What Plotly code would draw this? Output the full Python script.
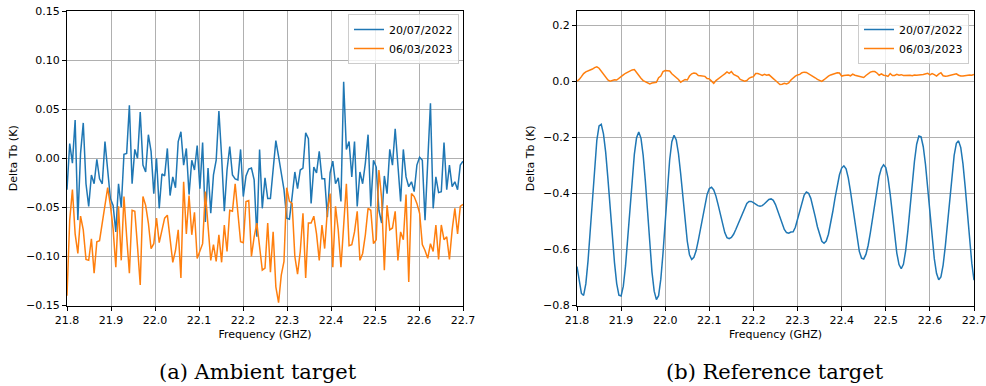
import numpy as np
import plotly.graph_objects as go

# ---------------- data ----------------
series_names = ["20/07/2022", "06/03/2023"]
captions = ["(a) Ambient target", "(b) Reference target"]

ambient_2022 = [
    -0.032, 0.015, -0.005, 0.039, -0.063, 0.005, 0.036, -0.026, -0.049, -0.017,
    -0.026, -0.001, -0.021, -0.026, 0.017, -0.012, -0.041, -0.048, -0.075, -0.026,
    -0.050, 0.004, 0.005, 0.054, -0.026, 0.009, 0.000, 0.047, -0.007, -0.014,
    0.024, 0.007, -0.036, 0.000, -0.051, -0.016, -0.018, 0.010, -0.038, -0.019,
    -0.030, 0.017, 0.027, -0.007, 0.010, -0.037, -0.002, -0.012, 0.013, -0.031,
    0.016, -0.065, -0.010, -0.056, -0.017, -0.002, 0.048, 0.002, -0.054, -0.012,
    0.012, -0.017, -0.021, -0.022, 0.009, -0.039, -0.018, -0.011, -0.010, -0.022,
    -0.080, 0.009, -0.051, -0.020, -0.041, -0.041, -0.012, 0.018, 0.002, -0.015,
    -0.032, -0.061, -0.062, -0.039, -0.014, -0.031, -0.012, -0.010, 0.026, 0.020,
    -0.046, -0.009, -0.015, 0.007, -0.021, -0.021, -0.060, -0.015,
    -0.003, -0.026, -0.020, -0.044, 0.078, 0.009, 0.017, -0.019, 0.017, -0.049,
    -0.014, -0.026, -0.005, 0.024, -0.049, -0.002, -0.009, -0.053, -0.066, -0.018,
    -0.036, 0.009, -0.007, 0.030, -0.012, -0.044, 0.009, -0.019, -0.029, -0.024,
    -0.034, -0.007, 0.001, -0.002, -0.063, -0.003, 0.056, -0.051, -0.019, -0.035,
    -0.034, 0.016, -0.032, -0.007, -0.029, -0.024, -0.032, -0.007, -0.003,
]

ambient_2023 = [
    -0.140, -0.063, -0.032, -0.077, -0.097, -0.059, -0.073, -0.103, -0.104, -0.082,
    -0.117, -0.085, -0.084, -0.066, -0.046, -0.030, -0.048, -0.072, -0.111, -0.049,
    -0.104, -0.039, -0.080, -0.117, -0.053, -0.054, -0.090, -0.129, -0.039, -0.048,
    -0.066, -0.092, -0.087, -0.061, -0.086, -0.074, -0.061, -0.058, -0.080, -0.106,
    -0.094, -0.073, -0.122, -0.024, -0.077, -0.038, -0.078, -0.055, -0.102, -0.094,
    -0.087, -0.034, -0.070, -0.104, -0.088, -0.105, -0.078, -0.106, -0.068, -0.095,
    -0.053, -0.054, -0.026, -0.053, -0.085, -0.086, -0.044, -0.043, -0.100, -0.080,
    -0.066, -0.090, -0.114, -0.112, -0.066, -0.116, -0.075, -0.131, -0.147,
    -0.119, -0.105, -0.030, -0.044, -0.046, -0.100, -0.118, -0.095, -0.056, -0.122,
    -0.066, -0.066, -0.059, -0.077, -0.104, -0.068, -0.092, -0.053, -0.036,
    -0.111, -0.049, -0.073, -0.111, -0.063, -0.026, -0.089, -0.088, -0.075, -0.054,
    -0.104, -0.097, -0.078, -0.051, -0.053, -0.087, -0.083, -0.012, -0.041, -0.114,
    -0.048, -0.073, -0.071, -0.054, -0.104, -0.075, -0.083, -0.037, -0.126, -0.036,
    -0.039, -0.046, -0.056, -0.088, -0.094, -0.102, -0.087, -0.095, -0.068, -0.103,
    -0.068, -0.083, -0.080, -0.103, -0.073, -0.051, -0.077, -0.049, -0.047,
]

reference_2022 = [
    -0.661, -0.715, -0.757, -0.764, -0.723, -0.641, -0.532, -0.411, -0.298, -0.210,
    -0.160, -0.154, -0.188, -0.253, -0.346, -0.450, -0.556, -0.647, -0.722, -0.763,
    -0.766, -0.731, -0.659, -0.563, -0.454, -0.348, -0.261, -0.202, -0.181, -0.203,
    -0.265, -0.357, -0.469, -0.583, -0.681, -0.749, -0.779, -0.765, -0.706, -0.613,
    -0.498, -0.381, -0.282, -0.216, -0.193, -0.210, -0.258, -0.330, -0.415, -0.499,
    -0.571, -0.619, -0.636, -0.628, -0.605, -0.568, -0.525, -0.480, -0.437, -0.404,
    -0.383, -0.378, -0.388, -0.410, -0.441, -0.477, -0.512, -0.540, -0.558, -0.562,
    -0.557, -0.546, -0.529, -0.510, -0.488, -0.468, -0.450, -0.436, -0.429, -0.429,
    -0.433, -0.439, -0.444, -0.446, -0.444, -0.437, -0.429, -0.422, -0.420, -0.425,
    -0.440, -0.461, -0.486, -0.510, -0.529, -0.540, -0.542, -0.538, -0.537, -0.521,
    -0.493, -0.461, -0.430, -0.406, -0.395, -0.400, -0.418, -0.447, -0.483, -0.519,
    -0.550, -0.571, -0.578, -0.570, -0.546, -0.509, -0.464, -0.416, -0.371, -0.334,
    -0.310, -0.302, -0.313, -0.345, -0.393, -0.450, -0.511, -0.565, -0.607, -0.631,
    -0.634, -0.618, -0.586, -0.541, -0.489, -0.433, -0.382, -0.339, -0.311, -0.298,
    -0.308, -0.345, -0.403, -0.476, -0.550, -0.613, -0.654, -0.669, -0.653, -0.605,
    -0.535, -0.449, -0.361, -0.286, -0.225, -0.196, -0.199, -0.234, -0.297, -0.378,
    -0.469, -0.557, -0.633, -0.685, -0.708, -0.698, -0.656, -0.588, -0.505, -0.415,
    -0.331, -0.265, -0.222, -0.213, -0.237, -0.295, -0.377, -0.471, -0.566, -0.649,
    -0.710,
]

reference_2023 = [
    0.000, 0.006, 0.016, 0.027, 0.033, 0.036, 0.039, 0.043, 0.048, 0.051,
    0.046, 0.036, 0.022, 0.012, 0.004, 0.000, 0.002, 0.005, 0.004, 0.011,
    0.017, 0.022, 0.028, 0.033, 0.035, 0.040, 0.041, 0.030, 0.020, 0.010,
    0.002, -0.003, -0.006, -0.010, -0.007, -0.006, -0.004, 0.012, 0.018, 0.034,
    0.038, 0.037, 0.036, 0.026, 0.020, 0.015, 0.006, -0.004, 0.001, 0.006,
    0.004, 0.018, 0.026, 0.029, 0.027, 0.020, 0.019, 0.019, 0.017, 0.009,
    0.008, 0.000, -0.008, 0.002, 0.007, 0.014, 0.020, 0.026, 0.033, 0.028,
    0.034, 0.024, 0.020, 0.016, 0.006, 0.002, 0.000, 0.002, 0.010, 0.014,
    0.016, 0.027, 0.027, 0.024, 0.020, 0.024, 0.021, 0.023, 0.014, 0.009,
    0.002, -0.005, -0.012, -0.011, -0.008, -0.010, -0.006, 0.004, 0.012, 0.018,
    0.022, 0.024, 0.030, 0.032, 0.031, 0.027, 0.020, 0.016, 0.012, 0.006,
    0.002, -0.001, 0.005, 0.013, 0.018, 0.022, 0.024, 0.026, 0.030, 0.029,
    0.018, 0.020, 0.020, 0.022, 0.019, 0.025, 0.021, 0.019, 0.018, 0.014,
    0.013, 0.020, 0.026, 0.032, 0.034, 0.034, 0.029, 0.021, 0.026, 0.021,
    0.020, 0.017, 0.027, 0.020, 0.020, 0.024, 0.021, 0.023, 0.020, 0.021,
    0.020, 0.021, 0.019, 0.022, 0.021, 0.023, 0.023, 0.024, 0.025, 0.028,
    0.022, 0.027, 0.023, 0.018, 0.025, 0.030, 0.019, 0.017, 0.018, 0.020,
    0.021, 0.024, 0.026, 0.021, 0.018, 0.018, 0.020, 0.022, 0.022, 0.021,
    0.024,
]

f_start, f_stop = 21.8, 22.7
x_ticks = [21.8, 21.9, 22.0, 22.1, 22.2, 22.3, 22.4, 22.5, 22.6, 22.7]
x_tick_labels = ["21.8", "21.9", "22.0", "22.1", "22.2", "22.3", "22.4", "22.5", "22.6", "22.7"]
ya_ticks = [-0.15, -0.10, -0.05, 0.0, 0.05, 0.10, 0.15]
ya_labels = ["\u22120.15", "\u22120.10", "\u22120.05", "0.00", "0.05", "0.10", "0.15"]
yb_ticks = [-0.8, -0.6, -0.4, -0.2, 0.0, 0.2]
yb_labels = ["\u22120.8", "\u22120.6", "\u22120.4", "\u22120.2", "0.0", "0.2"]

freq_a1 = np.linspace(f_start, f_stop, len(ambient_2022))
freq_a2 = np.linspace(f_start, f_stop, len(ambient_2023))
freq_b1 = np.linspace(f_start, f_stop, len(reference_2022))
freq_b2 = np.linspace(f_start, f_stop, len(reference_2023))

# ---------------- figure ----------------
W, H = 986, 386
BLUE, ORANGE = "#1f77b4", "#ff7f0e"
FONT = "DejaVu Sans"

fig = go.Figure()
line_w = 1.5
fig.add_trace(go.Scatter(x=freq_a1, y=ambient_2022, mode="lines", name=series_names[0],
                         line=dict(color=BLUE, width=line_w), xaxis="x", yaxis="y", legend="legend"))
fig.add_trace(go.Scatter(x=freq_a2, y=ambient_2023, mode="lines", name=series_names[1],
                         line=dict(color=ORANGE, width=line_w), xaxis="x", yaxis="y", legend="legend"))
fig.add_trace(go.Scatter(x=freq_b1, y=reference_2022, mode="lines", name=series_names[0],
                         line=dict(color=BLUE, width=line_w), xaxis="x2", yaxis="y2", legend="legend2"))
fig.add_trace(go.Scatter(x=freq_b2, y=reference_2023, mode="lines", name=series_names[1],
                         line=dict(color=ORANGE, width=line_w), xaxis="x2", yaxis="y2", legend="legend2"))

def px_x(p):  # screen px -> paper fraction
    return p / W

def px_y(p):
    return 1 - p / H

axis_common = dict(
    showline=True, linecolor="black", linewidth=1, mirror=True,
    ticks="outside", ticklen=4, tickwidth=1, tickcolor="black",
    showgrid=True, gridcolor="#b0b0b0", gridwidth=1,
    zeroline=False, tickfont=dict(family=FONT, size=11, color="black"),
    automargin=False, ticklabeloverflow="allow",
)
title_font = dict(family=FONT, size=11, color="black")

ydom = [px_y(305.5), px_y(11)]
legend_common = dict(xanchor="right", yanchor="top",
                     bgcolor="rgba(255,255,255,0.8)", bordercolor="#cccccc", borderwidth=1,
                     font=dict(family=FONT, size=11, color="black"), tracegroupgap=0,
                     itemwidth=30)

fig.update_layout(
    width=W, height=H,
    margin=dict(l=0, r=0, t=0, b=0, autoexpand=False),
    paper_bgcolor="white", plot_bgcolor="white",
    font=dict(family=FONT, size=11, color="black"),
    xaxis=dict(domain=[px_x(67), px_x(463)], range=[f_start, f_stop],
               tickvals=x_ticks, ticktext=x_tick_labels, anchor="y",
               title=dict(text="Frequency (GHZ)", font=title_font, standoff=4), **axis_common),
    yaxis=dict(domain=ydom, range=[-0.15, 0.15], tickvals=ya_ticks, ticktext=ya_labels,
               anchor="x", title=dict(text="Delta Tb (K)", font=title_font, standoff=6), **axis_common),
    xaxis2=dict(domain=[px_x(577), px_x(974)], range=[f_start, f_stop],
                tickvals=x_ticks, ticktext=x_tick_labels, anchor="y2",
                title=dict(text="Frequency (GHZ)", font=title_font, standoff=4), **axis_common),
    yaxis2=dict(domain=ydom, range=[-0.8, 0.25], tickvals=yb_ticks, ticktext=yb_labels,
                anchor="x2", title=dict(text="Delta Tb (K)", font=title_font, standoff=6), **axis_common),
    legend=dict(x=px_x(459), y=px_y(14), **legend_common),
    legend2=dict(x=px_x(969), y=px_y(14), **legend_common),
    showlegend=True,
)

fig.add_annotation(text=captions[0], x=px_x(258), y=px_y(372), xref="paper", yref="paper",
                   showarrow=False, xanchor="center", yanchor="middle",
                   font=dict(family="DejaVu Serif", size=21, color="black"))
fig.add_annotation(text=captions[1], x=px_x(775), y=px_y(372), xref="paper", yref="paper",
                   showarrow=False, xanchor="center", yanchor="middle",
                   font=dict(family="DejaVu Serif", size=21, color="black"))

# remove the default 8px page margin so the figure fills the window exactly
fig.write_html(
    "out.html",
    config={"displayModeBar": False},
    post_script="document.body.style.margin='0';document.body.style.padding='0';"
                "document.documentElement.style.overflow='hidden';",
)
